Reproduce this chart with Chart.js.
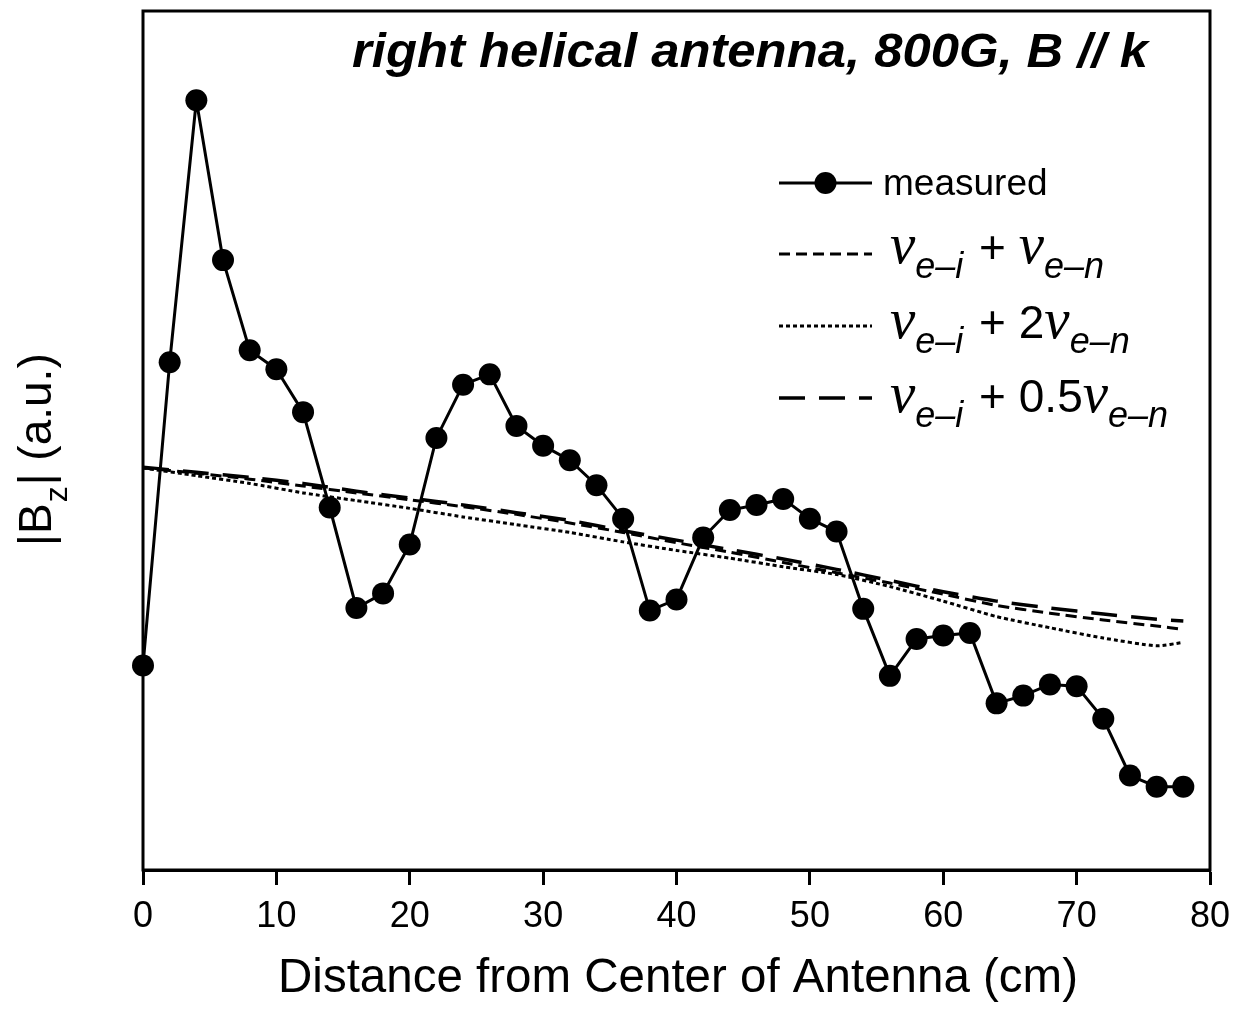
<!DOCTYPE html>
<html>
<head>
<meta charset="utf-8">
<script src="https://cdn.jsdelivr.net/npm/chart.js@4.4.1/dist/chart.umd.min.js"></script>
<style>
  html, body { margin: 0; padding: 0; background: #fff; }
  canvas { display: block; }
</style>
</head>
<body>
<canvas id="bzChart" width="1235" height="1011"></canvas>
<script>
// ---------- Data (|Bz| in arbitrary units) ----------
const xMeasured = [0, 2, 4, 6, 8, 10, 12, 14, 16, 18, 20, 22, 24, 26, 28, 30, 32, 34, 36, 38,
                   40, 42, 44, 46, 48, 50, 52, 54, 56, 58, 60, 62, 64, 66, 68, 70, 72, 74, 76, 78];
const measured = [23.8, 59.1, 89.6, 71.0, 60.5, 58.3, 53.3, 42.2, 30.5, 32.2, 37.9, 50.3, 56.5, 57.7,
                  51.7, 49.4, 47.7, 44.8, 40.9, 30.2, 31.5, 38.7, 41.9, 42.5, 43.2, 40.9, 39.4, 30.4,
                  22.6, 26.9, 27.3, 27.6, 19.4, 20.3, 21.6, 21.4, 17.6, 11.0, 9.7, 9.7];

const xSim = [0, 4, 8, 12, 16, 20, 24, 28, 32, 36, 40, 44, 48, 52, 56, 60, 64, 68, 72, 76, 78];
const simBase   = [46.8, 46.2, 45.5, 44.7, 43.9, 43.1, 42.3, 41.4, 40.4, 39.3, 38.1, 37.0, 35.8, 34.6,
                   33.4, 32.1, 30.8, 29.9, 29.1, 28.4, 28.0];   // nu_ei + nu_en
const simDouble = [46.8, 45.9, 45.0, 43.9, 43.0, 42.1, 41.1, 40.2, 39.3, 38.2, 37.2, 36.3, 35.3, 34.4,
                   33.0, 31.3, 29.5, 28.2, 27.0, 26.1, 26.5];   // nu_ei + 2 nu_en
const simHalf   = [46.9, 46.3, 45.7, 45.0, 44.1, 43.3, 42.5, 41.6, 40.7, 39.5, 38.4, 37.3, 36.2, 35.0,
                   33.7, 32.4, 31.3, 30.5, 29.8, 29.2, 29.0];   // nu_ei + 0.5 nu_en

const xTicks = [0, 10, 20, 30, 40, 50, 60, 70, 80];

const titleText = 'right helical antenna, 800G, B // k';
const xTitle = 'Distance from Center of Antenna (cm)';

// ---------- Helpers ----------
const SANS = '"Liberation Sans", Arial, Helvetica, sans-serif';
const NU_FONT = 'italic 57px "Liberation Serif", "Times New Roman", serif';
const SUB_FONT = 'italic 36px ' + SANS;
const pts = (xs, ys) => xs.map((x, i) => ({x, y: ys[i]}));

function drawSample(ctx, ds, x0, x1, y){
  ctx.save();
  ctx.strokeStyle = '#000';
  ctx.lineWidth = ds.borderWidth;
  ctx.setLineDash(ds.borderDash || []);
  ctx.beginPath();
  ctx.moveTo(x0, y);
  ctx.lineTo(x1, y);
  ctx.stroke();
  if (ds.pointRadius){
    ctx.beginPath();
    ctx.arc((x0 + x1) / 2, y, ds.pointRadius, 0, Math.PI * 2);
    ctx.fillStyle = '#000';
    ctx.fill();
  }
  ctx.restore();
}

// "nu_{e-i} + <coef>nu_{e-n}"
function drawNuLabel(ctx, x, y, coef){
  const parts = [
    {t: 'ν', f: NU_FONT, dy: 0},
    {t: 'e–i', f: SUB_FONT, dy: 15},
    {t: ' + ' + coef, f: '46px ' + SANS, dy: 0},
    {t: 'ν', f: NU_FONT, dy: 0},
    {t: 'e–n', f: SUB_FONT, dy: 15}
  ];
  ctx.save();
  ctx.fillStyle = '#000';
  ctx.textBaseline = 'alphabetic';
  ctx.textAlign = 'left';
  let cx = x;
  parts.forEach(p => {
    ctx.font = p.f;
    ctx.fillText(p.t, cx, y + p.dy);
    cx += ctx.measureText(p.t).width + (p.dy ? 3 : 0);
  });
  ctx.restore();
}

// ---------- Decorations: frame, title, y label, legend ----------
const decorations = {
  id: 'decorations',
  afterDraw(chart){
    const {ctx, chartArea: a} = chart;
    ctx.save();

    // frame
    ctx.strokeStyle = '#000';
    ctx.lineWidth = 3;
    ctx.setLineDash([]);
    ctx.strokeRect(a.left, a.top, a.right - a.left, a.bottom - a.top);

    // title inside the plot (condensed bold italic)
    ctx.fillStyle = '#000';
    ctx.font = 'italic bold 48px ' + SANS;
    ctx.textBaseline = 'alphabetic';
    const tw = ctx.measureText(titleText).width;
    ctx.save();
    ctx.translate(352, 67);
    ctx.scale(796 / tw, 1);
    ctx.fillText(titleText, 0, 0);
    ctx.restore();

    // y axis title: |B_z| (a.u.)
    ctx.save();
    ctx.translate(51, 546);
    ctx.rotate(-Math.PI / 2);
    ctx.textAlign = 'left';
    ctx.font = '46px ' + SANS;
    ctx.fillText('|B', 0, 0);
    let w = ctx.measureText('|B').width;
    ctx.font = '32px ' + SANS;
    ctx.fillText('z', w + 1, 16);
    w += ctx.measureText('z').width + 2;
    ctx.font = '46px ' + SANS;
    ctx.fillText('| (a.u.)', w, 0);
    ctx.restore();

    // legend
    const ds = chart.data.datasets;
    const sx0 = 779, sx1 = 872;
    drawSample(ctx, ds[0], sx0, sx1, 183);
    ctx.font = '37px ' + SANS;
    ctx.fillStyle = '#000';
    ctx.fillText('measured', 883, 195);

    drawSample(ctx, ds[1], sx0, sx1, 254);
    drawNuLabel(ctx, 890, 263, '');
    drawSample(ctx, ds[2], sx0, sx1, 326);
    drawNuLabel(ctx, 890, 338, '2');
    drawSample(ctx, ds[3], sx0, sx1, 398);
    drawNuLabel(ctx, 890, 412, '0.5');

    ctx.restore();
  }
};

// ---------- Chart ----------
Chart.defaults.font.family = SANS;
Chart.defaults.color = '#000';

const ctx = document.getElementById('bzChart').getContext('2d');
new Chart(ctx, {
  type: 'line',
  data: {
    datasets: [
      {
        label: 'measured',
        data: pts(xMeasured, measured),
        borderColor: '#000',
        backgroundColor: '#000',
        borderWidth: 3,
        pointRadius: 11,
        pointHoverRadius: 11,
        pointBorderWidth: 0,
        tension: 0,
        order: 0
      },
      {
        label: 'ν e–i + ν e–n',
        data: pts(xSim, simBase),
        borderColor: '#000',
        borderWidth: 3,
        borderDash: [11, 6],
        pointRadius: 0,
        tension: 0.2,
        order: 1
      },
      {
        label: 'ν e–i + 2ν e–n',
        data: pts(xSim, simDouble),
        borderColor: '#000',
        borderWidth: 3,
        borderDash: [4, 3],
        pointRadius: 0,
        tension: 0.2,
        order: 2
      },
      {
        label: 'ν e–i + 0.5ν e–n',
        data: pts(xSim, simHalf),
        borderColor: '#000',
        borderWidth: 3.5,
        borderDash: [26, 14],
        pointRadius: 0,
        tension: 0.2,
        order: 3
      }
    ]
  },
  options: {
    responsive: false,
    animation: false,
    devicePixelRatio: 1,
    clip: false,
    layout: {padding: {top: 4, right: 25, left: 0, bottom: 0}},
    plugins: {
      legend: {display: false},
      tooltip: {enabled: false}
    },
    scales: {
      x: {
        type: 'linear',
        min: 0,
        max: 80,
        afterFit: (s) => { s.height = 141; s.paddingLeft = 0; s.paddingRight = 0; },
        afterBuildTicks: (s) => { s.ticks = xTicks.map(v => ({value: v})); },
        grid: {
          drawOnChartArea: false,
          drawTicks: true,
          tickLength: 15,
          tickWidth: 3,
          tickColor: '#000',
          color: '#000'
        },
        border: {display: true, color: '#000', width: 3},
        ticks: {
          font: {size: 36},
          color: '#000',
          padding: 10,
          maxRotation: 0
        },
        title: {display: false}
      },
      y: {
        min: 0,
        max: 100,
        afterFit: (s) => { s.width = 143; s.paddingTop = 0; s.paddingBottom = 0; },
        grid: {display: false},
        border: {display: false},
        ticks: {display: false}
      }
    }
  },
  plugins: [decorations, {
    id: 'xTitle',
    afterDraw(chart){
      const c = chart.ctx;
      c.save();
      c.fillStyle = '#000';
      c.font = '47.5px ' + SANS;
      c.textAlign = 'center';
      c.textBaseline = 'alphabetic';
      c.fillText(xTitle, 678, 992);
      c.restore();
    }
  }]
});
</script>
</body>
</html>
